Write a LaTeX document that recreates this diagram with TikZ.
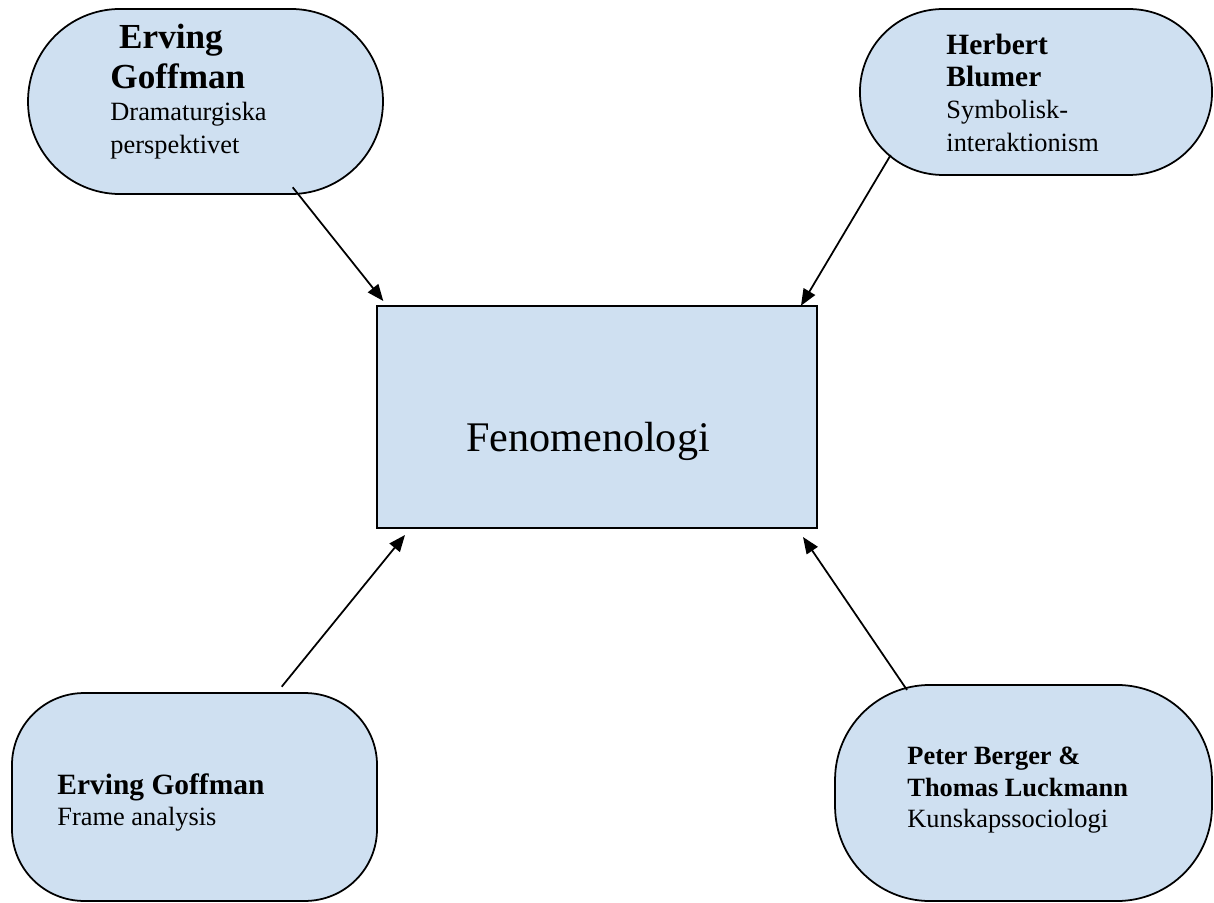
\documentclass[tikz,border=0pt]{standalone}
\usepackage{fontspec}
\setmainfont{Liberation Serif}
\usepackage{tikz}
\usetikzlibrary{arrows.meta}
\definecolor{paleblue}{RGB}{207,224,241}
\setlength{\lineskiplimit}{-50pt}

\begin{document}
\begin{tikzpicture}[x=0.455pt, y=-0.455pt,
    bubble/.style={draw, fill=paleblue, line width=0.8pt},
    bubbletext/.style={anchor=north west, inner sep=0pt, align=left},
    conn/.style={-{Triangle[length=7.5pt,width=6pt]}, line width=0.8pt}]
    \useasboundingbox (0,0) rectangle (1214,903);

    % theory bubbles
    \node[bubble, minimum width=161.5pt, minimum height=84.2pt, rounded corners=41.9pt] (dramaturgi) at (205.5,101.5) {};
    \node[bubble, minimum width=160.2pt, minimum height=75.5pt, rounded corners=37.7pt] (symbolisk) at (1036,92) {};
    \node[bubble, minimum width=166.1pt, minimum height=94.6pt, rounded corners=32.8pt] (frame) at (194.5,797) {};
    \node[bubble, minimum width=171.5pt, minimum height=98.3pt, rounded corners=43.2pt] (kunskap) at (1023.5,793) {};

    % centre box
    \node[bubble, minimum width=200.2pt, minimum height=101pt] (fenomenologi) at (597,417) {};
    \node[anchor=base, inner sep=0pt, font=\fontsize{19.2}{23}\selectfont] (fenText) at (588,452) {Fenomenologi};

    % texts
    \node[bubbletext, font=\fontsize{12}{14.6}\selectfont] (dramaturgiText) at (110,24)
        {{\fontsize{16}{18}\selectfont\bfseries\ Erving}\\[3.6pt]
         {\fontsize{16}{18}\selectfont\bfseries Goffman}\\
         Dramaturgiska\\
         perspektivet};
    \node[bubbletext, font=\fontsize{12}{14.7}\selectfont] (symboliskText) at (946,33.4)
        {{\fontsize{13.4}{15}\selectfont\bfseries Herbert}\\
         {\fontsize{13.4}{15}\selectfont\bfseries Blumer}\\
         Symbolisk-\\
         interaktionism};
    \node[bubbletext, font=\fontsize{12}{14.3}\selectfont] (frameText) at (57,773)
        {{\fontsize{13.4}{15}\selectfont\bfseries Erving Goffman}\\
         Frame analysis};
    \node[bubbletext, font=\fontsize{12}{14.3}\selectfont] (kunskapText) at (907,747)
        {\bfseries Peter Berger \&\\
         \bfseries Thomas Luckmann\\
         Kunskapssociologi};

    % arrows into the centre
    \coordinate (dramaFoot) at (292.7,187.3);
    \coordinate (symbFoot) at (890.7,155);
    \coordinate (frameFoot) at (281.7,686.7);
    \coordinate (kunskapFoot) at (907,690);
    \coordinate (fenNW) at (383.3,301);
    \coordinate (fenNE) at (801,305.7);
    \coordinate (fenSW) at (405,535);
    \coordinate (fenSE) at (803,537);

    \draw[conn] (dramaFoot) -- (fenNW);
    \draw[conn] (symbFoot) -- (fenNE);
    \draw[conn] (frameFoot) -- (fenSW);
    \draw[conn] (kunskapFoot) -- (fenSE);
\end{tikzpicture}
\end{document}
